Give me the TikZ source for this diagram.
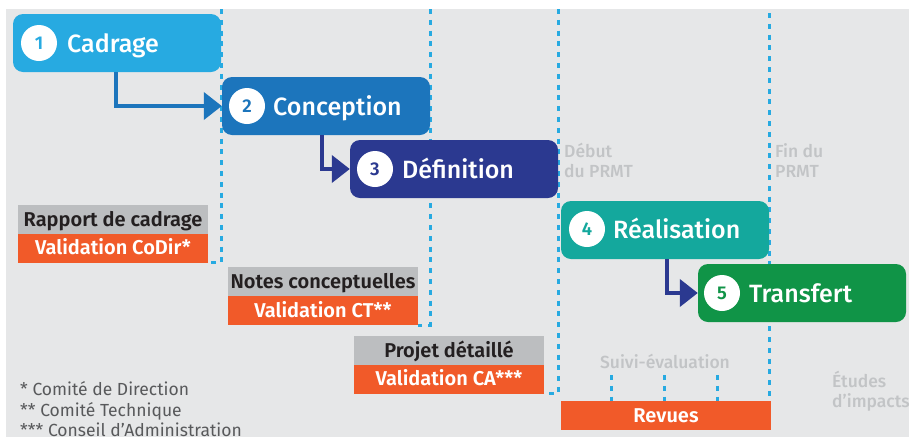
\documentclass[tikz,border=0pt]{standalone}
\usepackage{fontspec}
\setmainfont{Fira Sans}
\newfontfamily\medfont{Fira Sans Medium}
\newfontfamily\semifont{Fira Sans SemiBold}
\usetikzlibrary{arrows.meta}

\definecolor{bggray}{HTML}{E6E7E8}
\definecolor{cadrage}{HTML}{27AAE1}
\definecolor{conception}{HTML}{1C75BC}
\definecolor{definition}{HTML}{2B3990}
\definecolor{realisation}{HTML}{14A89D}
\definecolor{transfert}{HTML}{109447}
\definecolor{valorange}{HTML}{F15A29}
\definecolor{docgray}{HTML}{BCBEC0}
\definecolor{textdark}{HTML}{231F20}
\definecolor{notegray}{HTML}{58595B}
\definecolor{softgray}{HTML}{C2C4C6}

\begin{document}
\begin{tikzpicture}[x=1pt,y=-1pt,
  stepbox/.style={rounded corners=10pt, minimum width=208pt, minimum height=58pt, inner sep=0pt},
  numdisc/.style={circle, fill=white, minimum size=36pt, inner sep=0pt,
    font=\semifont\fontsize{18.5}{18.5}\selectfont},
  steptitle/.style={anchor=base west, inner sep=0pt, text=white,
    font=\medfont\fontsize{25}{30}\selectfont},
  docbox/.style={fill=docgray, minimum width=190pt, minimum height=29pt, inner sep=0pt,
    text=textdark, text height=13.8pt, text depth=0pt,
    font=\semifont\fontsize{20}{24}\selectfont},
  valbox/.style={docbox, fill=valorange, text=white},
  phase/.style={draw=cadrage, line width=3pt, dash pattern=on 5pt off 5.8pt},
  flow/.style={line width=4pt, -{Triangle[length=18pt,width=27pt]}},
  note/.style={anchor=base west, inner sep=0pt, text=notegray,
    font=\fontsize{17.5}{21}\selectfont},
  milestone/.style={anchor=base west, inner sep=0pt, text=softgray, align=left,
    font=\medfont\fontsize{17.5}{19.5}\selectfont}
]
\useasboundingbox (0,0) rectangle (909,437);
\fill[bggray] (6,9) rectangle (909,437);

% deliverables and validations
\node[docbox] (d1) at (113,219.5) {Rapport de cadrage};
\node[valbox] (v1) at (113,248) {Validation CoDir*};
\node[docbox] (d2) at (323,281.5) {Notes conceptuelles};
\node[valbox] (v2) at (323,310.5) {Validation CT**};
\node[docbox] (d3) at (449,350.5) {Projet détaillé};
\node[valbox] (v3) at (449,379) {Validation CA***};
\node[valbox, minimum width=210pt] (rv) at (666,415.5) {Revues};

% phase limits
\coordinate (l1) at (221,9);
\coordinate (l2) at (430,9);
\coordinate (l3) at (558,9);
\coordinate (l4) at (769,13);
\draw[phase] (l1) |- (v1.south east);
\draw[phase] (l2) |- (v2.south east);
\draw[phase] (l3) |- (v3.south east);
\draw[phase] (l4) -- (l4 |- rv.north);

% follow-up ticks towards the reviews
\coordinate (k1) at (611,375);
\coordinate (k2) at (664,375);
\coordinate (k3) at (717,375);
\draw[phase] (k1) -- (k1 |- rv.north);
\draw[phase] (k2) -- (k2 |- rv.north);
\draw[phase] (k3) -- (k3 |- rv.north);

% steps
\node[stepbox, fill=cadrage] (s1) at (117,43) {};
\node[stepbox, fill=conception] (s2) at (326,106) {};
\node[stepbox, fill=definition] (s3) at (454,169) {};
\node[stepbox, fill=realisation] (s4) at (665,230) {};
\node[stepbox, fill=transfert] (s5) at (802,293) {};

\node[numdisc, text=cadrage] (n1) at (39,43) {1};
\node[steptitle] (t1) at (67,52) {Cadrage};
\node[numdisc, text=conception] (n2) at (247,106) {2};
\node[steptitle] (t2) at (273,115) {Conception};
\node[numdisc, text=definition] (n3) at (375,169) {3};
\node[steptitle] (t3) at (402,178) {Définition};
\node[numdisc, text=realisation] (n4) at (587,229) {4};
\node[steptitle] (t4) at (613,238) {Réalisation};
\node[numdisc, text=transfert] (n5) at (722,293) {5};
\node[steptitle] (t5) at (749,302) {Transfert};

% sequencing arrows
\draw[flow, conception] (s1.south west) ++(103,0) |- (s2.west);
\draw[flow, definition] (s2.south west) ++(100,0) |- (s3.west);
\draw[flow, definition] (s4.south west) ++(106,0) |- (s5.west);

% milestones and side labels
\node[milestone] (m1) at (564,177) {Début\\du PRMT};
\node[milestone] (m2) at (775,177) {Fin du\\PRMT};
\node[milestone, anchor=base] (se) at (665,368) {Suivi-évaluation};
\node[milestone] (ei) at (832,407) {Études\\d’impacts};

% footnotes
\node[note] (f1) at (20,395) {* Comité de Direction};
\node[note] (f2) at (20,416) {** Comité Technique};
\node[note] (f3) at (20,436) {*** Conseil d’Administration};
\end{tikzpicture}
\end{document}
